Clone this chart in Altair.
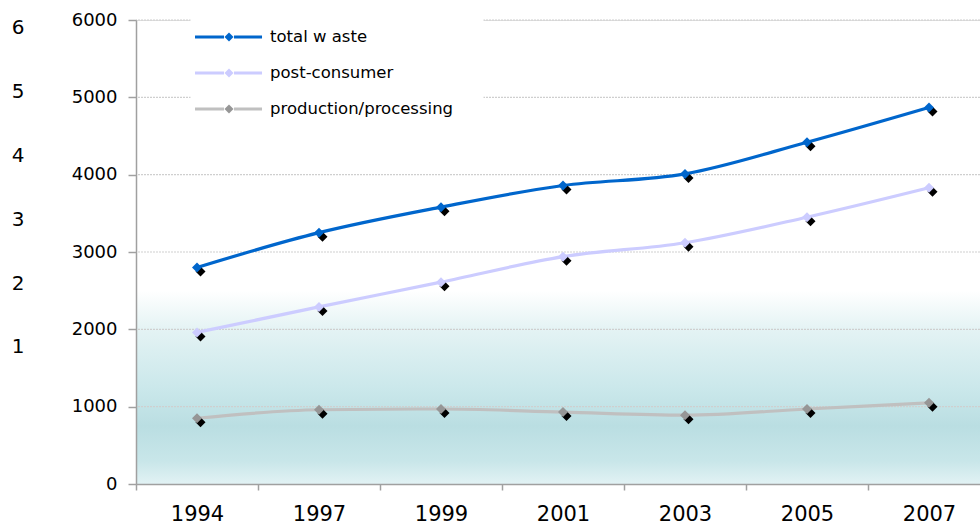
import altair as alt
import pandas as pd

# Waste quantities by survey year
years = ["1994", "1997", "1999", "2001", "2003", "2005", "2007"]
total_waste = [2800, 3250, 3580, 3860, 4010, 4420, 4870]
post_consumer = [1960, 2290, 2610, 2940, 3120, 3450, 3830]
production = [850, 960, 970, 930, 890, 970, 1050]

series_names = ["total w aste", "post-consumer", "production/processing"]
marker_keys = ["t", "c", "p"]
line_colors = ["#0066cc", "#ccccff", "#c0c0c0"]
marker_colors = ["#0066cc", "#ccccff", "#969696"]
line_widths = [3.2, 3.2, 4]

y_ticks = [0, 1000, 2000, 3000, 4000, 5000, 6000]
grid_values = [1000, 2000, 3000, 4000, 5000, 6000]
side_ticks = [1, 2, 3, 4, 5, 6]

rows = []
for name, key, vals in zip(series_names, marker_keys, [total_waste, post_consumer, production]):
    for yr, v in zip(years, vals):
        rows.append({"year": yr, "series": name, "key": key, "value": v})
df = pd.DataFrame(rows)

FONT = "DejaVu Sans"
W, H = 844, 464

xscale = alt.Scale(domain=years, range=[0, 854], paddingInner=0, paddingOuter=0)
xaxis = alt.Axis(
    title=None, labelAngle=0, labelFont=FONT, labelFontSize=21, labelColor="#000000",
    labelPadding=13, tickSize=6, tickColor="#a0a0a0", domainColor="#a0a0a0",
    domainWidth=1.5, tickWidth=1.5, tickBand="extent", grid=False, zindex=1,
)
yscale = alt.Scale(domain=[0, 6000], nice=False, zero=True)
yaxis = alt.Axis(
    title=None, values=y_ticks, format="d", labelFont=FONT, labelFontSize=18,
    labelColor="#000000", labelPadding=11, tickSize=8, tickColor="#a0a0a0",
    domainColor="#a0a0a0", domainWidth=1.5, tickWidth=1.5, grid=False, zindex=1,
)

stroke_scale = alt.Scale(domain=series_names, range=line_colors)
width_scale = alt.Scale(domain=series_names, range=line_widths)
fill_scale = alt.Scale(domain=marker_keys, range=marker_colors)

# legend content origin (relative to the plot area) and box padding
LEG_X, LEG_Y, LEG_PAD = 84.5, 8.5, 30
legend_common = dict(
    title=None, orient="none", symbolSize=169, symbolStrokeWidth=3.5,
    rowPadding=19, labelOffset=32.5, labelFont=FONT, labelFontSize=16.5,
    labelLimit=0,
)

# Shaded band behind the lower part of the plot
band = alt.Chart(pd.DataFrame({"lo": [0], "hi": [2500]})).mark_rect(
    fill=alt.Gradient(
        gradient="linear", x1=0, y1=0, x2=0, y2=1,
        stops=[
            alt.GradientStop(offset=0.0, color="#ffffff"),
            alt.GradientStop(offset=0.2, color="#e4f3f4"),
            alt.GradientStop(offset=0.5, color="#cbe8eb"),
            alt.GradientStop(offset=0.7, color="#badee2"),
            alt.GradientStop(offset=0.88, color="#c8e6e9"),
            alt.GradientStop(offset=1.0, color="#e2f2f4"),
        ],
    )
).encode(
    y=alt.Y("hi:Q", scale=yscale, axis=yaxis),
    y2="lo:Q",
)

grid = alt.Chart(pd.DataFrame({"g": grid_values})).mark_rule(
    color="#cfcfcf", strokeWidth=1.2, strokeDash=[2, 1]
).encode(y=alt.Y("g:Q", scale=yscale, axis=yaxis))

# Lines carry the legend box with labels
lines = alt.Chart(df).mark_line(interpolate="monotone").encode(
    x=alt.X("year:N", scale=xscale, axis=xaxis, sort=years),
    y=alt.Y("value:Q", scale=yscale, axis=yaxis),
    stroke=alt.Stroke(
        "series:N", scale=stroke_scale,
        legend=alt.Legend(
            legendX=LEG_X - LEG_PAD, legendY=LEG_Y - LEG_PAD, padding=LEG_PAD,
            fillColor="#ffffff", labelColor="#000000",
            symbolType="M-5.23,0H-0.77M0.77,0H5.08",
            **legend_common,
        ),
    ),
    strokeWidth=alt.StrokeWidth("series:O", scale=width_scale, legend=None),
    detail="series:N",
)

shadows = alt.Chart(df).mark_point(
    shape="diamond", filled=True, size=100, color="#000000", opacity=1,
    xOffset=3.5, yOffset=4,
).encode(
    x=alt.X("year:N", scale=xscale, axis=xaxis, sort=years),
    y=alt.Y("value:Q", scale=yscale, axis=yaxis),
)

# Markers add the diamonds on top of the legend lines
markers = alt.Chart(df).mark_point(
    shape="diamond", filled=True, size=100, opacity=1
).encode(
    x=alt.X("year:N", scale=xscale, axis=xaxis, sort=years),
    y=alt.Y("value:Q", scale=yscale, axis=yaxis),
    fill=alt.Fill(
        "key:N", scale=fill_scale,
        legend=alt.Legend(
            legendX=LEG_X, legendY=LEG_Y, padding=0, labelExpr="''",
            symbolType="M0,-0.69L0.69,0L0,0.69L-0.69,0Z",
            **legend_common,
        ),
    ),
)

main = alt.layer(band, grid, lines, shadows, markers)

# Secondary scale shown at the far left
side = alt.Chart(pd.DataFrame({"s": side_ticks})).mark_point(opacity=0).encode(
    y=alt.Y(
        "s:Q",
        scale=alt.Scale(domain=[-1.15, 6.125], nice=False, zero=False),
        axis=alt.Axis(
            title=None, orient="left", values=side_ticks, offset=112, domain=False,
            ticks=False, tickSize=0, labelPadding=0, labelFont=FONT, labelFontSize=20,
            labelColor="#000000", grid=False,
        ),
    )
)

chart = alt.layer(main, side).resolve_scale(y="independent").properties(
    width=W, height=H,
    autosize=alt.AutoSizeParams(type="none"),
    padding={"left": 136, "top": 20, "right": 0, "bottom": 40},
).configure_view(strokeWidth=0).configure(background="#ffffff")

chart.save("out.html", embed_options={"renderer": "svg", "actions": False})
